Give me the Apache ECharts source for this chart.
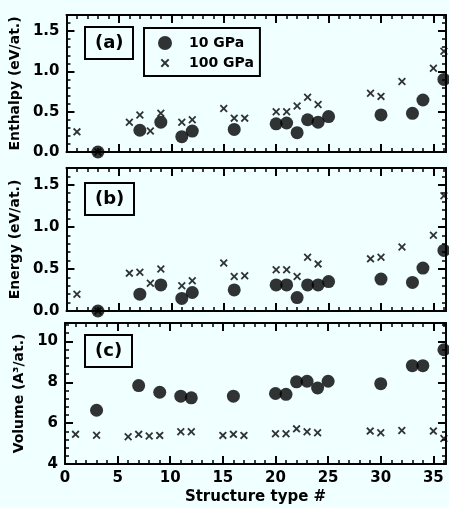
<!DOCTYPE html>
<html>
<head>
<meta charset="utf-8">
<script src="https://cdn.jsdelivr.net/npm/echarts@6/dist/echarts.min.js"></script>
<style>
  html, body { margin: 0; padding: 0; background: #f0ffff; }
  #chart { width: 449px; height: 508px; }
</style>
</head>
<body>
<div id="chart"></div>
<script>
// structure types for each pressure
const structures10 = [3, 7, 9, 11, 12, 16, 20, 21, 22, 23, 24, 25, 30, 33, 34, 36]
const structures100 = [1, 3, 6, 7, 8, 9, 11, 12, 15, 16, 17, 20, 21, 22, 23, 24, 29, 30, 32, 35, 36]

// (a) enthalpy, eV/at.
const enthalpy10 = [0.0, 0.27, 0.37, 0.19, 0.26, 0.28, 0.35, 0.36, 0.24, 0.40, 0.37, 0.44, 0.46, 0.48, 0.645, 0.90]
const enthalpy100 = [0.25, 0.0, 0.37, 0.46, 0.26, 0.48, 0.37, 0.40, 0.54, 0.42, 0.42, 0.50, 0.50, 0.57, 0.68, 0.59, 0.73, 0.69, 0.875, 1.04, 1.25]

// (b) energy, eV/at.
const energy10 = [0.0, 0.20, 0.31, 0.15, 0.22, 0.25, 0.31, 0.31, 0.16, 0.31, 0.31, 0.35, 0.38, 0.34, 0.51, 0.72]
const energy100 = [0.20, 0.0, 0.45, 0.46, 0.33, 0.50, 0.30, 0.36, 0.57, 0.41, 0.42, 0.49, 0.49, 0.41, 0.64, 0.56, 0.62, 0.64, 0.76, 0.90, 1.37]

// (c) volume, A^3/at.
const volume10 = [6.63, 7.84, 7.51, 7.32, 7.24, 7.32, 7.45, 7.41, 8.02, 8.05, 7.72, 8.05, 7.93, 8.81, 8.81, 9.59]
const volume100 = [5.45, 5.41, 5.33, 5.45, 5.37, 5.40, 5.58, 5.58, 5.40, 5.45, 5.40, 5.48, 5.48, 5.72, 5.58, 5.53, 5.61, 5.53, 5.64, 5.61, 5.25]

const panelLabels = ['(a)', '(b)', '(c)']
const yNames = ['Enthalpy (eV/at.)', 'Energy (eV/at.)', 'Volume (A\u00b3/at.)']

const FONT = '"DejaVu Sans", sans-serif'
const crossPath = 'path://M0,1.6L1.6,0L5,3.4L8.4,0L10,1.6L6.6,5L10,8.4L8.4,10L5,6.6L1.6,10L0,8.4L3.4,5Z'
// same cross with empty padding so the legend icon stays small
const crossIcon = 'path://M-3,-3L-2.99,-3L-3,-2.99Z M13,13L12.99,13L13,12.99Z M0,1.6L1.6,0L5,3.4L8.4,0L10,1.6L6.6,5L10,8.4L8.4,10L5,6.6L1.6,10L0,8.4L3.4,5Z'

const grids = [
  { left: 65, right: 3, top: 15, height: 137 },
  { left: 65, right: 3, top: 168, height: 143 },
  { left: 65, right: 3, top: 323, height: 141 }
]
const xRange = { min: 0, max: 36.2, interval: 5, minor: 1 }
const yRanges = [
  { min: 0, max: 1.7, interval: 0.5, minor: 0.1 },
  { min: 0, max: 1.7, interval: 0.5, minor: 0.1 },
  { min: 4, max: 10.9, interval: 2, minor: 0.4 }
]

// one axis; minor ticks come from an extra axis with a finer interval
const tickAxis = (gridIndex, position, r, minor) => ({
  type: 'value', gridIndex, position,
  min: r.min, max: r.max, interval: minor ? r.minor : r.interval,
  axisLine: { show: !minor, onZero: false, lineStyle: { color: '#000', width: 2 } },
  axisTick: { show: true, inside: true, length: minor ? 4 : 8, lineStyle: { color: '#000', width: minor ? 1.5 : 2 } },
  axisLabel: { show: false },
  splitLine: { show: false }
})

const labelStyle = { color: '#000', fontFamily: FONT, fontWeight: 'bold', fontSize: 15 }

const xAxes = []
const yAxes = []
// main axes first so series can use index i
grids.forEach((g, i) => {
  xAxes.push(Object.assign(tickAxis(i, 'bottom', xRange, false), {
    axisLabel: Object.assign({ show: i === 2, margin: 7, showMaxLabel: false }, labelStyle),
    name: i === 2 ? 'Structure type #' : '',
    nameLocation: 'middle', nameGap: 26,
    nameTextStyle: labelStyle
  }))
  yAxes.push(Object.assign(tickAxis(i, 'left', yRanges[i], false), {
    axisLabel: Object.assign({
      margin: 7, showMaxLabel: false,
      formatter: v => (i === 2 ? String(v) : v.toFixed(1))
    }, labelStyle),
    name: yNames[i], nameLocation: 'middle', nameGap: 38,
    nameTextStyle: Object.assign({}, labelStyle, { fontSize: 14 })
  }))
})
grids.forEach((g, i) => {
  xAxes.push(tickAxis(i, 'top', xRange, false))
  xAxes.push(tickAxis(i, 'bottom', xRange, true))
  xAxes.push(tickAxis(i, 'top', xRange, true))
  yAxes.push(tickAxis(i, 'right', yRanges[i], false))
  yAxes.push(tickAxis(i, 'left', yRanges[i], true))
  yAxes.push(tickAxis(i, 'right', yRanges[i], true))
})

const pair = (xs, ys) => xs.map((x, k) => [x, ys[k]])
const panels = [
  [enthalpy10, enthalpy100],
  [energy10, energy100],
  [volume10, volume100]
]
const series = []
panels.forEach((p, i) => {
  series.push({
    name: '100 GPa', type: 'scatter', xAxisIndex: i, yAxisIndex: i,
    symbol: crossPath, symbolSize: 8,
    itemStyle: { color: '#000' },
    data: pair(structures100, p[1])
  })
  series.push({
    name: '10 GPa', type: 'scatter', xAxisIndex: i, yAxisIndex: i,
    symbol: 'circle', symbolSize: 13,
    itemStyle: { color: '#000' },
    data: pair(structures10, p[0])
  })
})

const titleTops = [27, 183, 335]
const titles = panelLabels.map((t, i) => ({
  text: t, left: 85, top: titleTops[i],
  padding: [7, 10, 7, 10],
  borderColor: '#000', borderWidth: 2,
  textStyle: { color: '#000', fontFamily: FONT, fontWeight: 'bold', fontSize: 18 }
}))

const chart = echarts.init(document.getElementById('chart'))
chart.setOption({
  animation: false,
  title: titles,
  legend: {
    left: 144, top: 28, orient: 'vertical',
    padding: [8, 6, 6, 14],
    itemWidth: 14, itemHeight: 14, itemGap: 6,
    borderColor: '#000', borderWidth: 2,
    selectedMode: false,
    data: [
      { name: '10 GPa', icon: 'circle' },
      { name: '100 GPa', icon: crossIcon }
    ],
    textStyle: { color: '#000', fontFamily: FONT, fontWeight: 'bold', fontSize: 14, padding: [0, 0, 0, 12] }
  },
  grid: grids,
  xAxis: xAxes,
  yAxis: yAxes,
  series
})

window.addEventListener('resize', () => chart.resize())
</script>
</body>
</html>
